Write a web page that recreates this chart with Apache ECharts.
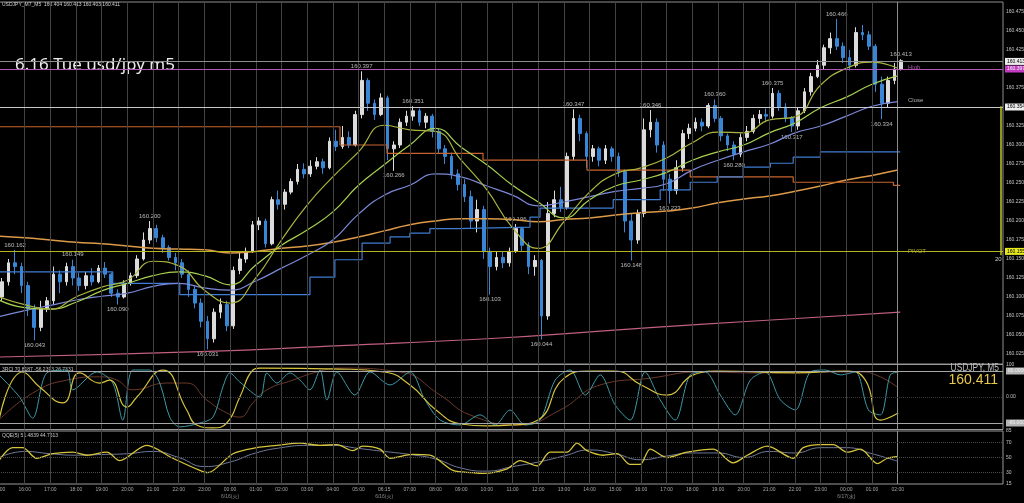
<!DOCTYPE html>
<html>
<head>
<meta charset="utf-8"/>
<style>
  html,body { margin:0; padding:0; width:100%; height:100%; background:#000; }
  #chart { width:1024px; height:503px; }
</style>
</head>
<body>
<div id="chart"></div>
<script src="https://cdn.jsdelivr.net/npm/echarts@6/dist/echarts.min.js"></script>
<script>
// prices are kept as pips above 160.000
var BASE = 160;
// candles: one per 15 min, first at 15:07 (hours after 15:00)
var barStart = 0.125, barStep = 0.25;
var firstOpen = 100;
var closes = [120,145,140,115,85,60,85,95,130,120,
  140,125,115,128,120,138,130,105,100,118,
  128,150,175,190,178,165,152,145,130,110,
  92,68,45,80,90,62,135,150,160,195,
  200,170,228,222,238,252,268,262,272,278,
  270,305,298,310,300,340,385,355,340,362,
  295,300,330,338,345,330,338,318,295,285,
  262,248,232,200,215,160,140,152,145,160,
  190,168,140,148,75,210,228,218,285,335,
  315,285,295,280,295,285,265,200,175,210,
  320,330,300,255,240,270,315,322,330,325,
  352,335,312,300,288,310,318,335,340,338,
  368,350,335,325,345,370,390,405,428,440,
  430,415,405,448,445,430,380,355,385,400,
  411];
var highs = [125,150,162,145,120,90,95,100,140,135,
  145,149,132,133,138,142,146,132,110,122,
  132,155,185,200,195,182,168,158,150,135,
  115,98,75,85,98,95,140,158,165,200,
  205,203,232,240,242,256,275,276,280,284,
  282,310,320,325,318,345,397,388,360,368,
  365,305,335,345,351,348,342,341,322,300,
  290,268,255,240,228,220,165,160,160,165,
  196,192,172,155,150,225,240,245,290,347,
  340,318,300,298,300,298,290,268,210,215,
  335,346,335,305,262,280,320,328,336,335,
  355,360,338,315,305,315,325,340,346,348,
  375,372,355,338,350,375,395,412,432,448,
  466,435,425,455,458,450,433,390,390,408,
  413];
var lows = [95,115,130,105,75,43,55,80,90,105,
  115,115,108,110,115,118,125,100,90,98,
  115,125,148,170,172,158,148,135,125,100,
  85,60,31,40,72,55,58,130,145,158,
  188,165,168,215,215,235,248,256,258,268,
  262,268,292,295,296,298,335,345,333,338,
  280,266,296,325,332,325,322,310,288,275,
  255,240,225,190,185,150,103,135,138,140,
  158,160,130,128,44,70,205,212,215,280,
  305,270,278,272,275,278,258,185,148,170,
  205,310,290,240,223,235,265,308,318,318,
  322,330,305,292,280,284,305,315,328,330,
  335,345,330,317,320,342,365,388,400,420,
  425,408,398,402,438,425,370,334,350,380,
  398];
// zigzag swing points (candle index)
var swingHighIdx = [2,11,23,56,64,80,89,101,111,120,130,140];
var swingLowIdx = [5,18,32,61,76,84,98,104,114,123,137];

// moving averages, one value per hour from 15:00
var maFast = [100,90,84,100,113,122,147,141,109,92,125,175,221,258,291,326,320,318,280,241,
  191,164,199,238,262,270,283,303,317,316,333,337,379,401,409,401];
var maMid = [96,86,84,93,108,118,128,133,128,116,142,168,188,212,247,274,300,322,297,274,
  247,225,204,228,246,254,264,280,291,300,316,329,349,363,380,391];
var maSlow = [74,82,89,96,101,105,114,118,112,109,121,138,155,175,209,234,247,262,258,246,
  234,220,225,232,239,243,249,267,280,291,301,316,325,338,351,357];
var ma200 = [180,178,175,172,170,167,164,163,162,158,160,164,167,172,179,187,195,200,203,203,
  202,199,202,204,208,211,213,217,224,229,233,239,246,254,260,267];
// [hour, pips]
var maDaily = [[0,21],[7.82,28],[13.28,36],[19.51,46],[23.41,55],[27.31,64],[31.21,72],[35.1,80]];
var mtfBlue = [[0,133],[4.43,118],[7.04,103],[12.11,126],[13.08,149],[14.14,171],[15.23,179],[16.0,184],
  [16.78,190],[17.84,192],[20.68,205],[21.07,217],[23.92,228],[25.75,241],[26.92,251],[27.97,258],
  [28.98,271],[30.04,276],[30.93,284],[31.99,291],[35.1,291]];
var mtfOrange = [[0,324],[13.28,300],[15.11,289],[18.85,280],[22.9,267],[26.92,258],[30.93,251],[34.83,247],[35.1,247]];

// levels
var bidPrice = 160.413, highPrice = 160.397, closePrice = 160.354, pivotPrice = 160.155;
var levelTags = [['High', highPrice, '#c466c4'], ['Close', closePrice, '#d8d8d8'], ['PIVOT', pivotPrice, '#d8d830']];

// RCI panel [hour, value]
var rciFast = [[0,68],[0.8,0],[1.31,-65],[1.86,74],[2.64,83],[2.87,22],[3.81,77],[4.43,43],[4.82,-71],
  [5.21,83],[5.87,83],[6.26,43],[6.65,-62],[7.04,-92],[7.82,-80],[8.33,-62],[8.72,31],[8.99,74],
  [9.38,46],[10.16,0],[10.43,74],[10.82,43],[11.33,74],[11.72,52],[12.11,22],[12.5,83],[12.77,-9],
  [13.16,77],[13.86,6],[14.45,77],[15.23,37],[16.01,77],[16.59,-9],[17.18,-71],[17.95,-86],
  [18.73,-55],[19.32,-86],[19.9,-40],[20.49,-86],[21.07,-71],[21.66,52],[22.24,83],[22.83,6],
  [23.41,68],[24.0,-25],[24.58,-71],[25.16,77],[25.75,-9],[26.33,-71],[26.92,68],[27.5,77],
  [28.09,6],[28.67,-55],[29.26,52],[29.84,77],[30.43,-9],[31.01,-40],[31.6,77],[32.18,83],
  [32.77,68],[33.35,77],[33.86,-40],[34.32,-55],[34.71,68],[35.02,77]];
var rciMid = [[0,-71],[0.92,77],[1.58,31],[2.48,-18],[3.14,74],[3.92,43],[4.31,52],[4.98,-31],
  [5.37,0],[6.38,83],[7.31,-40],[7.7,-86],[8.33,-95],[8.87,-80],[9.38,0],[9.89,83],[10.16,89],
  [13.28,86],[14.99,77],[16.01,37],[17.02,-40],[17.99,-83],[19.01,-89],[20.02,-86],[20.99,-71],
  [22.01,58],[23.02,80],[24.0,80],[25.01,37],[26.02,6],[27.04,68],[28.01,80],[31.01,74],
  [33.04,80],[33.74,52],[34.32,-71],[35.02,-49]];
var rciSlow = [[0,-71],[1.31,12],[2.64,52],[3.92,62],[4.59,52],[5.21,22],[6.53,43],[7.31,43],
  [8.09,-9],[8.87,-49],[9.38,-62],[9.89,-18],[10.43,22],[11.45,52],[12.38,77],[13.28,89],
  [15.62,77],[17.18,6],[18.34,-55],[20.29,-86],[21.85,-40],[23.41,37],[25.36,58],[27.31,77],
  [29.65,74],[31.99,77],[33.55,77],[34.32,62],[35.02,28]];

// QQE panel
var qqeMain = [[0,46],[0.53,63],[0.92,63],[1.47,49],[2.09,55],[2.87,57],[3.42,53],[4.2,57],[4.7,46],
  [5.75,66],[6.77,49],[7.82,33],[8.13,30],[9.11,55],[10.04,63],[10.82,66],[11.72,69],[12.5,66],
  [13.16,67],[13.78,59],[14.17,65],[14.84,61],[15.23,49],[16.12,54],[16.78,53],[17.68,33],
  [18.46,30],[18.85,29],[19.79,35],[20.29,46],[20.96,39],[21.46,57],[22.12,57],[22.51,69],
  [22.9,59],[23.53,53],[24.07,55],[24.58,41],[24.97,41],[25.36,61],[26.02,50],[26.8,57],
  [27.82,61],[28.59,43],[29.14,53],[29.92,65],[30.93,49],[31.32,63],[31.99,67],[32.49,67],
  [33.04,57],[33.55,61],[34.21,42],[34.6,49],[34.99,51]];
var qqeSignal = [50,58,55,53,54,55,58,50,38,44,56,63,66,66,62,58,54,48,36,32,
  38,44,52,60,55,47,52,56,56,50,58,56,63,63,55,45];

// time axis
var hourLabels = ['15:00','16:00','17:00','18:00','19:00','20:00','21:00','22:00','23:00','00:00',
  '01:00','02:00','03:00','04:00','05:00','06:15','07:00','08:00','09:00','10:00',
  '11:00','12:00','13:00','14:00','15:00','16:00','17:00','18:00','19:00','20:00',
  '21:00','22:00','23:00','00:00','01:00','02:00'];
var dateLabels = {9:'6/16(火)', 15:'6/16(火)', 33:'6/17(水)'};

function px(p) { return +(BASE + p / 1000).toFixed(3); }
function hourly(arr) { return arr.map(function (v, i) { return [i, px(v)]; }); }
function pairs(arr) { return arr.map(function (d) { return [d[0], px(d[1])]; }); }

var candleData = closes.map(function (c, i) {
  var o = i === 0 ? firstOpen : closes[i - 1];
  return [barStart + barStep * i, px(o), px(c), px(lows[i]), px(highs[i])];
});
var swingHighs = swingHighIdx.map(function (i) { return [barStart + barStep * i, px(highs[i])]; });
var swingLows = swingLowIdx.map(function (i) { return [barStart + barStep * i, px(lows[i])]; });

var gridLines = [];
for (var h = 1; h < hourLabels.length; h++) {
  gridLines.push({ xAxis: h, lineStyle: { color: h === hourLabels.length - 1 ? '#8c8c8c' : '#434343', type: 'solid' } });
}
function gridMark(extra) {
  return {
    silent: true, symbol: ['none', 'none'], animation: false,
    label: { show: false },
    lineStyle: { color: '#434343', width: 1, type: 'solid' },
    data: gridLines.concat(extra || [])
  };
}

var TXT = '"Liberation Sans", "Noto Sans CJK JP"';
var X_MAX = 39.1;

function levelLine(price, color, boxBg, boxFg) {
  return {
    yAxis: price,
    lineStyle: { color: color, width: 1, type: 'solid' },
    label: {
      show: true, position: 'end', distance: 2, formatter: price.toFixed(3),
      backgroundColor: boxBg, color: boxFg, fontSize: 5, fontFamily: TXT, padding: [1, 2]
    }
  };
}

var gridBase = { left: -1, right: 21, show: true, borderWidth: 1, containLabel: false, outerBoundsMode: 'none' };
function mkGrid(top, height, color) {
  return Object.assign({}, gridBase, { top: top, height: height, borderColor: color });
}

var chart = echarts.init(document.getElementById('chart'));
chart.setOption({
  backgroundColor: '#000',
  animation: false,
  grid: [mkGrid(2, 362, '#8f8f8f'), mkGrid(364.5, 65, '#9a9a9a'), mkGrid(431, 53, '#9a9a9a')],
  xAxis: [0, 1, 2].map(function (g) {
    return {
      type: 'value', gridIndex: g, min: 0, max: X_MAX, interval: 1,
      axisLine: { show: false }, axisTick: { show: false }, splitLine: { show: false },
      axisLabel: g < 2 ? { show: false } : {
        show: true, color: '#a8a8a8', fontSize: 5, fontFamily: TXT, margin: 2, lineHeight: 7,
        showMinLabel: true, showMaxLabel: false,
        formatter: function (v) {
          var i = Math.round(v);
          if (i < 0 || i >= hourLabels.length) return '';
          return hourLabels[i] + (dateLabels[i] ? '\n{d|' + dateLabels[i] + '}' : '');
        },
        rich: { d: { fontSize: 5, color: '#8a8a8a', fontFamily: TXT, lineHeight: 7 } }
      }
    };
  }),
  yAxis: [
    {
      type: 'value', gridIndex: 0, position: 'right', min: 160.0118, max: 160.4882,
      minInterval: 0.025, maxInterval: 0.025,
      axisLine: { show: false }, axisTick: { show: false }, splitLine: { show: false },
      axisLabel: { color: '#c4c4c4', fontSize: 5, fontFamily: TXT, margin: 3,
        showMinLabel: false, showMaxLabel: false,
        formatter: function (v) { return v.toFixed(3); } }
    },
    {
      type: 'value', gridIndex: 1, position: 'right', min: -100, max: 100, interval: 20,
      axisLine: { show: false }, axisTick: { show: false }, splitLine: { show: false },
      axisLabel: { color: '#c4c4c4', fontSize: 5, fontFamily: TXT, margin: 3,
        formatter: function (v) {
          if (v === 100) return '100';
          if (v === 0) return '0.00';
          if (v === 80) return '{b|80.0000}';
          if (v === -80) return '{b|-80.0000}';
          return '';
        },
        rich: { b: { backgroundColor: '#b4b4b4', color: '#f0f0f0', fontSize: 5, padding: [1, 2], fontFamily: TXT } }
      }
    },
    {
      type: 'value', gridIndex: 2, position: 'right', min: 15, max: 85, interval: 5,
      axisLine: { show: false }, axisTick: { show: false }, splitLine: { show: false },
      axisLabel: { color: '#c4c4c4', fontSize: 5, fontFamily: TXT, margin: 3,
        formatter: function (v) { return [85, 70, 50, 30, 15].indexOf(v) >= 0 ? String(v) : ''; } }
    }
  ],
  series: [
    {
      type: 'candlestick', xAxisIndex: 0, yAxisIndex: 0, data: candleData, barWidth: 3.2,
      encode: { x: 0, y: [1, 2, 3, 4] },
      itemStyle: { color: '#dcdcdc', color0: '#3a86d6', borderColor: '#dcdcdc', borderColor0: '#3a86d6', borderWidth: 1 },
      markLine: gridMark()
    },
    { type: 'line', xAxisIndex: 0, yAxisIndex: 0, data: pairs(maDaily), smooth: true, symbol: 'none',
      lineStyle: { color: '#c2607e', width: 1.2 } },
    { type: 'line', xAxisIndex: 0, yAxisIndex: 0, data: hourly(ma200), smooth: true, symbol: 'none',
      lineStyle: { color: '#dc9a48', width: 1.5 } },
    { type: 'line', xAxisIndex: 0, yAxisIndex: 0, data: pairs(mtfOrange), step: 'end', symbol: 'none',
      lineStyle: { color: '#c8642c', width: 1.2 } },
    { type: 'line', xAxisIndex: 0, yAxisIndex: 0, data: pairs(mtfBlue), step: 'end', symbol: 'none',
      lineStyle: { color: '#3f7ed4', width: 1.2 } },
    { type: 'line', xAxisIndex: 0, yAxisIndex: 0, data: hourly(maSlow), smooth: true, symbol: 'none',
      lineStyle: { color: '#7a88d8', width: 1.2 } },
    { type: 'line', xAxisIndex: 0, yAxisIndex: 0, data: hourly(maMid), smooth: true, symbol: 'none',
      lineStyle: { color: '#a8d250', width: 1.2 } },
    { type: 'line', xAxisIndex: 0, yAxisIndex: 0, data: hourly(maFast), smooth: true, symbol: 'none',
      lineStyle: { color: '#aab43e', width: 1.2 },
      markLine: {
        silent: true, symbol: ['none', 'none'], animation: false,
        data: [
          levelLine(bidPrice, '#8e8e8e', '#ececec', '#000'),
          levelLine(highPrice, '#b554b5', '#c23cc2', '#f0f0f0'),
          levelLine(closePrice, '#c8c8c8', '#ececec', '#000'),
          levelLine(pivotPrice, '#b5b520', '#e8e820', '#000'),
          [
            { coord: [39.0, closePrice - 0.003], lineStyle: { color: '#c8c81e', width: 1.5, type: 'solid' }, label: { show: false } },
            { coord: [39.0, pivotPrice] }
          ]
        ]
      }
    },
    { type: 'scatter', xAxisIndex: 0, yAxisIndex: 0, symbolSize: 0,
      data: levelTags.map(function (d) { return { name: d[0], value: [35.4, d[1]], label: { color: d[2] } }; }),
      label: { show: true, position: 'top', align: 'left', distance: 1, fontSize: 6, fontFamily: TXT,
        formatter: function (p) { return p.name; } } },
    { type: 'scatter', xAxisIndex: 0, yAxisIndex: 0, data: swingHighs, symbolSize: 0,
      label: { show: true, position: 'top', distance: 2, color: '#e0e0e0', fontSize: 6, fontFamily: TXT,
        formatter: function (p) { return p.value[1].toFixed(3); } } },
    { type: 'scatter', xAxisIndex: 0, yAxisIndex: 0, data: swingLows, symbolSize: 0,
      label: { show: true, position: 'bottom', distance: 2, color: '#e0e0e0', fontSize: 6, fontFamily: TXT,
        formatter: function (p) { return p.value[1].toFixed(3); } } },

    { type: 'line', xAxisIndex: 1, yAxisIndex: 1, data: rciSlow, smooth: true, symbol: 'none',
      lineStyle: { color: '#6e3a2c', width: 1 },
      markLine: gridMark([
        { yAxis: 80, lineStyle: { color: '#a6a6a6', type: 'solid' } },
        { yAxis: -80, lineStyle: { color: '#a6a6a6', type: 'solid' } },
        { yAxis: 0, lineStyle: { color: '#3a3a3a', type: 'dotted' } }
      ]) },
    { type: 'line', xAxisIndex: 1, yAxisIndex: 1, data: rciFast, smooth: 0.3, symbol: 'none',
      lineStyle: { color: '#3e9aa6', width: 1 } },
    { type: 'line', xAxisIndex: 1, yAxisIndex: 1, data: rciMid, smooth: true, symbol: 'none',
      lineStyle: { color: '#d6c43c', width: 1.2 } },

    { type: 'line', xAxisIndex: 2, yAxisIndex: 2, data: qqeSignal.map(function (v, i) { return [i, v]; }),
      smooth: true, symbol: 'none', lineStyle: { color: '#707a98', width: 1 },
      markLine: gridMark([
        { yAxis: 70, lineStyle: { color: '#4a4a4a', type: 'dotted' } },
        { yAxis: 50, lineStyle: { color: '#4a4a4a', type: 'dotted' } },
        { yAxis: 30, lineStyle: { color: '#4a4a4a', type: 'dotted' } }
      ]) },
    { type: 'line', xAxisIndex: 2, yAxisIndex: 2, data: qqeMain, smooth: 0.3, symbol: 'none',
      lineStyle: { color: '#d6c43c', width: 1.3 } }
  ],
  graphic: [
    { type: 'text', left: 2, top: 2, style: { text: 'USDJPY_M7_M5  160.404 160.413 160.403 160.411', fill: '#d0d0d0', font: '5px "Liberation Sans"' } },
    { type: 'text', left: 15, top: 57, style: { text: '6.16 Tue usd/jpy m5', fill: '#ececec', font: '17px "Noto Sans"' } },
    { type: 'text', left: 2, top: 367, style: { text: '3RCI 70.8187 -56.2393 26.7331', fill: '#c8c8c8', font: '5px "Liberation Sans"' } },
    { type: 'text', left: 2, top: 433, style: { text: 'QQE(5) 51.4839 44.7513', fill: '#c8c8c8', font: '5px "Liberation Sans"' } },
    { type: 'text', x: 999, y: 363, scaleX: 0.84,
      style: { text: 'USDJPY, M5', fill: '#bdbdbd', font: '10px "Liberation Sans"', align: 'right', verticalAlign: 'top' } },
    { type: 'text', x: 998, y: 373,
      style: { text: '160.411', fill: '#e8c84a', font: '14px "Liberation Sans"', align: 'right', verticalAlign: 'top' } },
    { type: 'text', left: 995, top: 256, style: { text: '20', fill: '#cfcfcf', font: '6px "Liberation Sans"' } }
  ]
});
</script>
</body>
</html>
